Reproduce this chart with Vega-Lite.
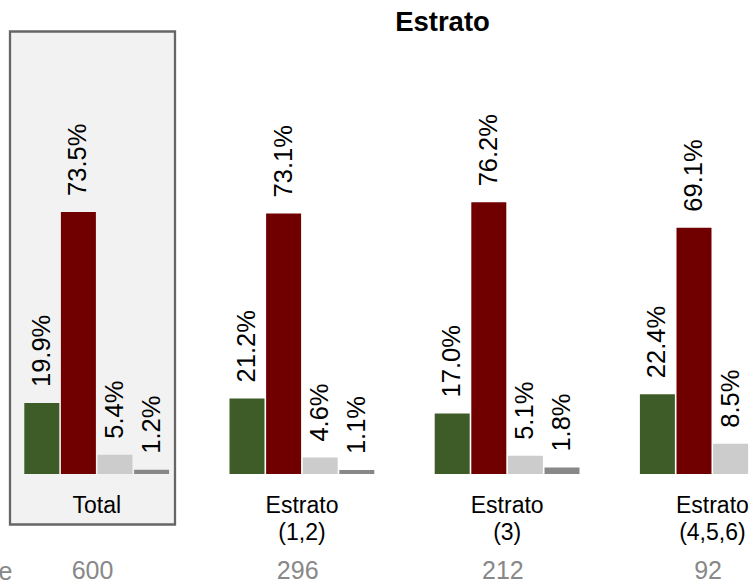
{
  "$schema": "https://vega.github.io/schema/vega-lite/v6.json",
  "width": 751,
  "height": 356.5,
  "autosize": {"type": "none"},
  "padding": {"left": 0, "top": 117.5, "right": 0, "bottom": 109},
  "background": "white",
  "title": {
    "text": "Estrato",
    "font": "Liberation Sans",
    "fontSize": 27.5,
    "fontWeight": "bold",
    "color": "black",
    "anchor": "middle",
    "frame": "group",
    "baseline": "alphabetic",
    "dx": 67,
    "offset": -27.7
  },
  "config": {"view": {"stroke": null}, "font": "Liberation Sans"},
  "datasets": {
    "bars": [
      {"grupo": "Total", "cat": "Sí", "value": 0.199},
      {"grupo": "Total", "cat": "No", "value": 0.735},
      {"grupo": "Total", "cat": "No sabe", "value": 0.054},
      {"grupo": "Total", "cat": "No responde", "value": 0.012},
      {"grupo": "Estrato (1,2)", "cat": "Sí", "value": 0.212},
      {"grupo": "Estrato (1,2)", "cat": "No", "value": 0.731},
      {"grupo": "Estrato (1,2)", "cat": "No sabe", "value": 0.046},
      {"grupo": "Estrato (1,2)", "cat": "No responde", "value": 0.011},
      {"grupo": "Estrato (3)", "cat": "Sí", "value": 0.170},
      {"grupo": "Estrato (3)", "cat": "No", "value": 0.762},
      {"grupo": "Estrato (3)", "cat": "No sabe", "value": 0.051},
      {"grupo": "Estrato (3)", "cat": "No responde", "value": 0.018},
      {"grupo": "Estrato (4,5,6)", "cat": "Sí", "value": 0.224},
      {"grupo": "Estrato (4,5,6)", "cat": "No", "value": 0.691},
      {"grupo": "Estrato (4,5,6)", "cat": "No sabe", "value": 0.085}
    ],
    "groups": [
      {"grupo": "Total", "n": 600},
      {"grupo": "Estrato (1,2)", "n": 296},
      {"grupo": "Estrato (3)", "n": 212},
      {"grupo": "Estrato (4,5,6)", "n": 92}
    ],
    "box": [{"grupo": "Total"}]
  },
  "layer": [
    {
      "data": {"name": "box"},
      "mark": {"type": "bar", "fill": "#f2f2f2", "stroke": "#666666", "strokeWidth": 2.3},
      "encoding": {
        "x": {
          "field": "grupo",
          "type": "nominal",
          "sort": ["Total", "Estrato (1,2)", "Estrato (3)", "Estrato (4,5,6)"],
          "scale": {
            "type": "band",
            "domain": ["Total", "Estrato (1,2)", "Estrato (3)", "Estrato (4,5,6)"],
            "range": [10, 790.6],
            "paddingInner": 0.1959,
            "paddingOuter": 0
          },
          "axis": {
            "title": null,
            "orient": "bottom",
            "zindex": 2,
            "domain": false,
            "ticks": false,
            "tickSize": 0,
            "grid": false,
            "labelPadding": 20,
            "labelOffset": 4.3,
            "labelFont": "Liberation Sans",
            "labelFontSize": 23,
            "labelColor": "black",
            "labelAngle": 0,
            "labelBaseline": "top",
            "labelLineHeight": 27,
            "labelOverlap": false,
            "labelBound": false,
            "labelFlush": false,
            "labelExpr": "datum.value == 'Total' ? 'Total' : split(datum.value, ' ')"
          }
        },
        "y": {
          "datum": 1.2412,
          "type": "quantitative",
          "scale": {"domain": [0, 1], "nice": false, "zero": true},
          "axis": {
            "title": "Base",
            "orient": "left",
            "zindex": 2,
            "labels": false,
            "ticks": false,
            "domain": false,
            "grid": false,
            "titleAngle": 0,
            "titleAlign": "right",
            "titleBaseline": "alphabetic",
            "titleX": 12,
            "titleY": 461.5,
            "titleFont": "Liberation Sans",
            "titleFontSize": 25,
            "titleFontWeight": "normal",
            "titleColor": "#888888"
          }
        },
        "y2": {"datum": -0.1417}
      }
    },
    {
      "data": {"name": "bars"},
      "mark": {"type": "bar"},
      "encoding": {
        "x": {"field": "grupo", "type": "nominal"},
        "xOffset": {
          "field": "cat",
          "type": "nominal",
          "sort": ["Sí", "No", "No sabe", "No responde"],
          "scale": {"domain": ["Sí", "No", "No sabe", "No responde"], "range": [13.5, 159.9], "paddingInner": 0.044, "paddingOuter": 0.022}
        },
        "y": {"field": "value", "type": "quantitative"},
        "color": {
          "field": "cat",
          "type": "nominal",
          "scale": {"domain": ["Sí", "No", "No sabe", "No responde"], "range": ["#3e5c27", "#700000", "#cccccc", "#888888"]},
          "legend": null
        }
      }
    },
    {
      "data": {"name": "bars"},
      "mark": {"type": "text", "angle": 270, "align": "left", "baseline": "middle", "dx": 16, "font": "Liberation Sans", "fontSize": 25.5, "color": "black"},
      "encoding": {
        "x": {"field": "grupo", "type": "nominal"},
        "xOffset": {"field": "cat", "type": "nominal"},
        "y": {"field": "value", "type": "quantitative"},
        "text": {"field": "value", "type": "quantitative", "format": ".1%"}
      }
    },
    {
      "data": {"name": "groups"},
      "mark": {"type": "text", "align": "center", "baseline": "alphabetic", "font": "Liberation Sans", "fontSize": 25, "color": "#888888"},
      "encoding": {
        "x": {"field": "grupo", "type": "nominal"},
        "y": {"datum": -0.2945, "type": "quantitative"},
        "text": {"field": "n", "type": "quantitative"}
      }
    }
  ]
}
